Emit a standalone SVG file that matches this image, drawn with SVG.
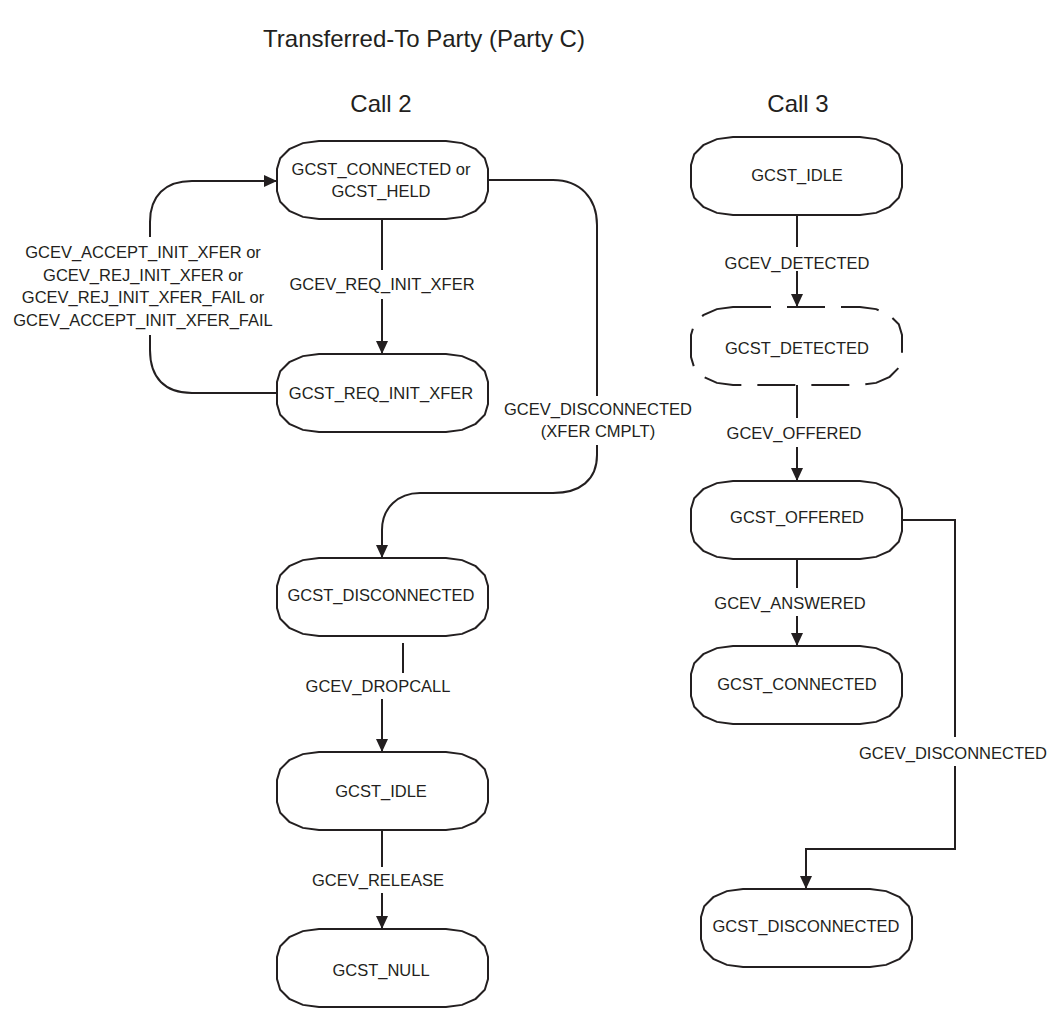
<svg xmlns="http://www.w3.org/2000/svg" xmlns:xlink="http://www.w3.org/1999/xlink" width="1057" height="1009" viewBox="0 0 1057 1009">
<style>
text{font-family:"Liberation Sans",Arial,sans-serif;fill:#231f20;}
.t{font-size:16.5px;text-anchor:middle;}
.h{font-size:24px;text-anchor:middle;}
.node{fill:#fff;stroke:#231f20;stroke-width:2;}
.dash{stroke-dasharray:38 16;}
.c{fill:none;stroke:#231f20;stroke-width:2;}
.a{marker-end:url(#arr);}
</style>
<defs>
<path id="state" d="M42,0 H169 L185.1,2.1 L198.7,8.2 L207.8,17.3 L211,28 V50 L207.8,60.7 L198.7,69.8 L185.1,75.9 L169,78 H42 L25.9,75.9 L12.3,69.8 L3.2,60.7 L0,50 V28 L3.2,17.3 L12.3,8.2 L25.9,2.1 Z"/>
<marker id="arr" markerUnits="userSpaceOnUse" markerWidth="14" markerHeight="12" refX="13" refY="6" orient="auto">
<path d="M0,0 L13,6 L0,12 Z" fill="#231f20"/>
</marker>
</defs>
<rect width="1057" height="1009" fill="#fff"/>
<text class="h" x="424" y="47">Transferred-To Party (Party C)</text>
<text class="h" x="381" y="112">Call 2</text>
<text class="h" x="798" y="112">Call 3</text>

<g id="connectors">
<path class="c" d="M382,219 V270"/>
<path class="c a" d="M382,299 V354"/>
<path class="c" d="M277,393 H192 C165,393 150,378 150,350 V335"/>
<path class="c a" d="M150,237 V222 C150,196 165,181 192,181 H277"/>
<path class="c" d="M488,180 H553 C580,180 597,198 597,225 V396"/>
<path class="c a" d="M597,445 V455 C597,480 580,493 553,493 H420 C398,493 382,508 382,530 V558"/>
<path class="c" d="M403,643 V673"/>
<path class="c a" d="M382,699 V752"/>
<path class="c" d="M382,830 V867"/>
<path class="c a" d="M382,893 V929"/>
<path class="c" d="M797,215 V247"/>
<path class="c a" d="M797,271 V307"/>
<path class="c" d="M797,385 V418"/>
<path class="c a" d="M797,447 V481"/>
<path class="c" d="M797,559 V588"/>
<path class="c a" d="M797,616 V646"/>
<path class="c" d="M901,520 H955 V737"/>
<path class="c a" d="M955,766 V849 H806 V889"/>
</g>

<g id="labels">
<text class="t" x="382" y="290">GCEV_REQ_INIT_XFER</text>
<text class="t" x="143" y="258">GCEV_ACCEPT_INIT_XFER or</text>
<text class="t" x="143" y="281">GCEV_REJ_INIT_XFER or</text>
<text class="t" x="143" y="303">GCEV_REJ_INIT_XFER_FAIL or</text>
<text class="t" x="143" y="326">GCEV_ACCEPT_INIT_XFER_FAIL</text>
<text class="t" x="598" y="415">GCEV_DISCONNECTED</text>
<text class="t" x="598" y="437">(XFER CMPLT)</text>
<text class="t" x="378" y="692">GCEV_DROPCALL</text>
<text class="t" x="378" y="886">GCEV_RELEASE</text>
<text class="t" x="797" y="269">GCEV_DETECTED</text>
<text class="t" x="794" y="439">GCEV_OFFERED</text>
<text class="t" x="790" y="609">GCEV_ANSWERED</text>
<text class="t" x="953" y="759">GCEV_DISCONNECTED</text>
</g>

<g id="c2-connected"><use xlink:href="#state" class="node" x="277" y="141"/><text class="t" x="381" y="175">GCST_CONNECTED or</text><text class="t" x="381" y="197">GCST_HELD</text></g>
<g id="c2-req-init-xfer"><use xlink:href="#state" class="node" x="277" y="354"/><text class="t" x="381" y="399">GCST_REQ_INIT_XFER</text></g>
<g id="c2-disconnected"><use xlink:href="#state" class="node" x="277" y="558"/><text class="t" x="381" y="601">GCST_DISCONNECTED</text></g>
<g id="c2-idle"><use xlink:href="#state" class="node" x="277" y="752"/><text class="t" x="381" y="797">GCST_IDLE</text></g>
<g id="c2-null"><use xlink:href="#state" class="node" x="277" y="929"/><text class="t" x="381" y="976">GCST_NULL</text></g>

<g id="c3-idle"><use xlink:href="#state" class="node" x="691" y="137"/><text class="t" x="797" y="181">GCST_IDLE</text></g>
<g id="c3-detected"><use xlink:href="#state" class="node dash" x="691" y="307"/><text class="t" x="797" y="354">GCST_DETECTED</text></g>
<g id="c3-offered"><use xlink:href="#state" class="node" x="691" y="481"/><text class="t" x="797" y="523">GCST_OFFERED</text></g>
<g id="c3-connected"><use xlink:href="#state" class="node" x="691" y="646"/><text class="t" x="797" y="690">GCST_CONNECTED</text></g>
<g id="c3-disconnected"><use xlink:href="#state" class="node" x="701" y="889"/><text class="t" x="806" y="932">GCST_DISCONNECTED</text></g>
</svg>
